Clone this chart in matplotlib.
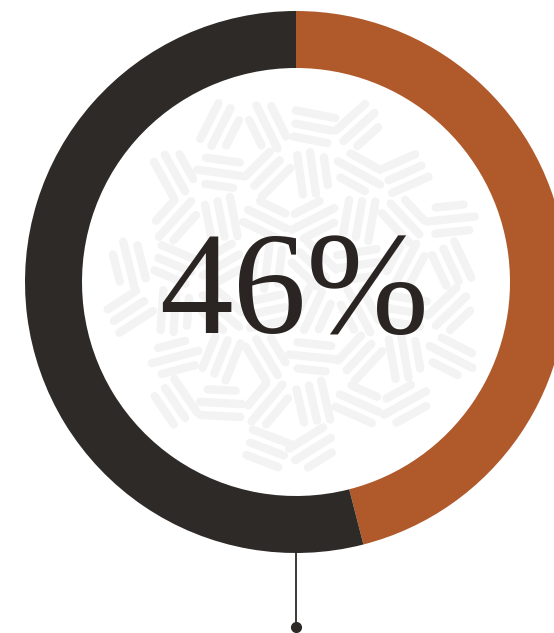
import numpy as np
import matplotlib.pyplot as plt

# share of the ring and the label in the middle
values = [46, 54]
colors = ['#b05a2c', '#2e2a27']
label = '46%'

W, H = 554, 633
cx, cy = 296, 351
r_out, ring = 271, 57

fig = plt.figure(figsize=(W / 100, H / 100), dpi=100)
ax = fig.add_axes([0, 0, 1, 1])
ax.axis('off')

# faint brush-stroke texture behind the number
r_tex = 190
step = 46
for i, gx in enumerate(np.arange(cx - r_tex, cx + r_tex, step)):
    for j, gy in enumerate(np.arange(cy - r_tex, cy + r_tex, step)):
        mx, my = gx + step / 2, gy + step / 2
        if (mx - cx) ** 2 + (my - cy) ** 2 > (r_tex - 15) ** 2:
            continue
        ang = np.deg2rad((i * 53 + j * 71) % 180)
        dx, dy = np.cos(ang), np.sin(ang)
        nx, ny = -dy, dx
        for k in (-1, 0, 1):
            ln = 18 - 4 * abs(k) + (i + 2 * j + k) % 3 * 3
            ox, oy = mx + nx * k * 13, my + ny * k * 13
            ax.plot([ox - dx * ln, ox + dx * ln], [oy - dy * ln, oy + dy * ln],
                    color='#f3f3f3', lw=6, solid_capstyle='round', zorder=0)

ax.pie(values, colors=colors, startangle=90, counterclock=False,
       radius=r_out, center=(cx, cy),
       wedgeprops=dict(width=ring, linewidth=0))

ax.text(cx - 2, 335, label, ha='center', va='center',
        fontsize=106, family='Liberation Serif', color='#2a2523', zorder=5)

# pointer line with a dot under the ring
ax.plot([cx, cx], [cy - r_out, 6], color='#2e2a27', lw=1.3)
ax.plot(cx, 6, 'o', color='#2e2a27', ms=7)

ax.set_xlim(0, W)
ax.set_ylim(0, H)
ax.set_aspect('equal')

fig.savefig('out.png', dpi=100)
